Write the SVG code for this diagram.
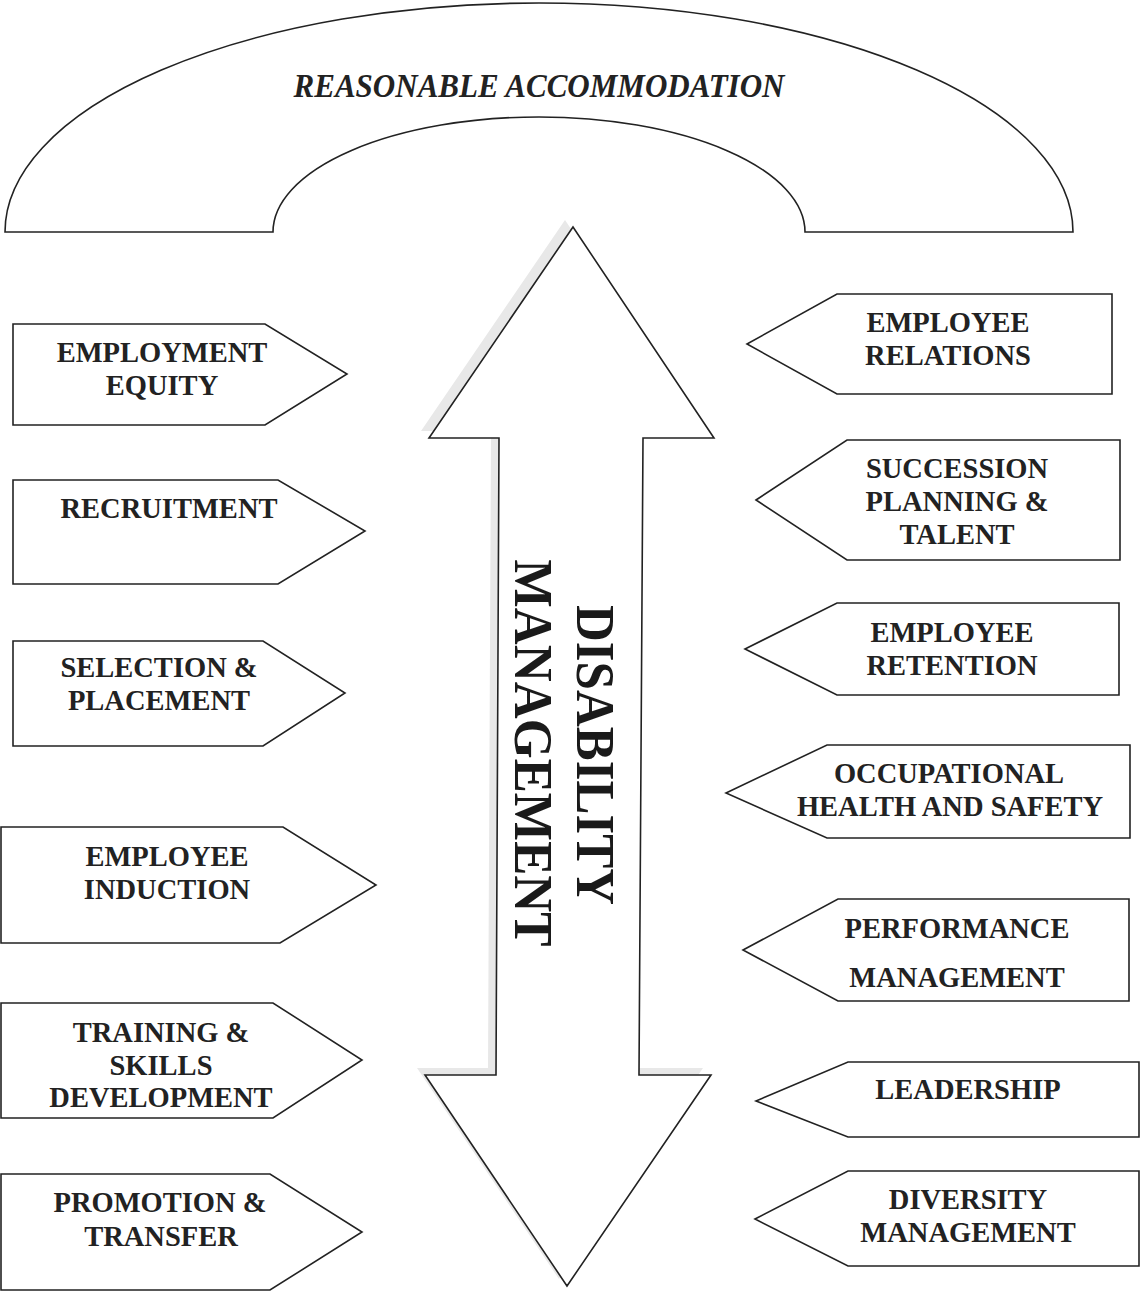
<svg xmlns="http://www.w3.org/2000/svg" width="1140" height="1292" viewBox="0 0 1140 1292">
<style>
.shape{fill:#fff;stroke:#222;stroke-width:1.6;stroke-linejoin:miter}
.lbl{font-family:"Liberation Serif","Times New Roman",serif;font-weight:bold;font-size:28.5px;fill:#222;text-anchor:middle}
.big{font-family:"Liberation Serif","Times New Roman",serif;font-weight:bold;font-size:54px;fill:#1a1a1a;text-anchor:middle}
.title{font-family:"Liberation Serif","Times New Roman",serif;font-weight:bold;font-style:italic;font-size:34px;fill:#222;text-anchor:middle}
</style>
<rect width="1140" height="1292" fill="#fff"/>
<g id="arch">
<path class="shape" d="M5,232 A534,229 0 0 1 1073,232 L805,232 A266,115 0 0 0 273,232 Z"/>
<text class="title" x="539" y="97" textLength="491" lengthAdjust="spacingAndGlyphs">REASONABLE ACCOMMODATION</text>
</g>
<g id="double-arrow">
<polygon points="573,227 714,438 643,438 639,1075 711,1075 567,1286 425,1075 496,1075 499,438 429,438" fill="#e8e8e8" stroke="none" transform="translate(-8,-7)"/>
<polygon class="shape" points="573,227 714,438 643,438 639,1075 711,1075 567,1286 425,1075 496,1075 499,438 429,438"/>
<text class="big" transform="translate(577,755) rotate(90)" textLength="300" lengthAdjust="spacingAndGlyphs">DISABILITY</text>
<text class="big" transform="translate(515,753) rotate(90)" textLength="387" lengthAdjust="spacingAndGlyphs">MANAGEMENT</text>
</g>
<g id="connectors"></g>
<g id="employment-equity">
<polygon class="shape" points="13,324 265,324 347,374 265,425 13,425"/>
<text class="lbl" x="162" y="362">EMPLOYMENT</text>
<text class="lbl" x="162" y="395">EQUITY</text>
</g>
<g id="recruitment">
<polygon class="shape" points="13,480 278,480 365,531 278,584 13,584"/>
<text class="lbl" x="169" y="518">RECRUITMENT</text>
</g>
<g id="selection-placement">
<polygon class="shape" points="13,641 263,641 345,693 263,746 13,746"/>
<text class="lbl" x="159" y="677">SELECTION &amp;</text>
<text class="lbl" x="159" y="710">PLACEMENT</text>
</g>
<g id="employee-induction">
<polygon class="shape" points="1,827 283,827 376,885 280,943 1,943"/>
<text class="lbl" x="167" y="866">EMPLOYEE</text>
<text class="lbl" x="167" y="899">INDUCTION</text>
</g>
<g id="training-skills">
<polygon class="shape" points="1,1003 273,1003 362,1060 273,1118 1,1118"/>
<text class="lbl" x="161" y="1042">TRAINING &amp;</text>
<text class="lbl" x="161" y="1075">SKILLS</text>
<text class="lbl" x="161" y="1107">DEVELOPMENT</text>
</g>
<g id="promotion-transfer">
<polygon class="shape" points="1,1174 270,1174 362,1232 270,1290 1,1290"/>
<text class="lbl" x="160" y="1212">PROMOTION &amp;</text>
<text class="lbl" x="161" y="1246">TRANSFER</text>
</g>
<g id="employee-relations">
<polygon class="shape" points="747,344 837,294 1112,294 1112,394 837,394"/>
<text class="lbl" x="948" y="332">EMPLOYEE</text>
<text class="lbl" x="948" y="365">RELATIONS</text>
</g>
<g id="succession-planning">
<polygon class="shape" points="756,500 847,440 1120,440 1120,560 847,560"/>
<text class="lbl" x="957" y="478">SUCCESSION</text>
<text class="lbl" x="957" y="511">PLANNING &amp;</text>
<text class="lbl" x="957" y="544">TALENT</text>
</g>
<g id="employee-retention">
<polygon class="shape" points="745,649 837,603 1119,603 1119,695 837,695"/>
<text class="lbl" x="952" y="642">EMPLOYEE</text>
<text class="lbl" x="952" y="675">RETENTION</text>
</g>
<g id="occupational-health">
<polygon class="shape" points="726,793 827,745 1130,745 1130,838 827,838"/>
<text class="lbl" x="949" y="783">OCCUPATIONAL</text>
<text class="lbl" x="950" y="816">HEALTH AND SAFETY</text>
</g>
<g id="performance-management">
<polygon class="shape" points="743,950 838,899 1129,899 1129,1001 838,1001"/>
<text class="lbl" x="957" y="938">PERFORMANCE</text>
<text class="lbl" x="957" y="987">MANAGEMENT</text>
</g>
<g id="leadership">
<polygon class="shape" points="756,1101 848,1062 1139,1062 1139,1137 848,1137"/>
<text class="lbl" x="968" y="1099">LEADERSHIP</text>
</g>
<g id="diversity-management">
<polygon class="shape" points="755,1219 848,1171 1139,1171 1139,1266 848,1266"/>
<text class="lbl" x="968" y="1209">DIVERSITY</text>
<text class="lbl" x="968" y="1242">MANAGEMENT</text>
</g>
</svg>
